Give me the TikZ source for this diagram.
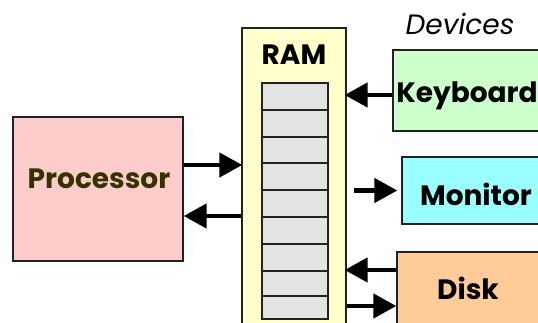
\documentclass[tikz,border=0pt]{standalone}
\usepackage{fontspec}
\setmainfont{Poppins}
\usetikzlibrary{arrows.meta,calc}

\definecolor{procfill}{HTML}{FFCCCC}
\definecolor{proctext}{HTML}{333300}
\definecolor{ramfill}{HTML}{FFFFCC}
\definecolor{cellfill}{HTML}{E3E3E3}
\definecolor{kbfill}{HTML}{CCFFCC}
\definecolor{monfill}{HTML}{99FFFF}
\definecolor{diskfill}{HTML}{FFCC99}
\definecolor{edge}{HTML}{222222}

\tikzset{
  box/.style={draw=edge, line width=1.3pt, rectangle, inner sep=0pt},
  cellbox/.style={draw=edge, line width=1.3pt, fill=cellfill},
  lbl/.style={font=\fontsize{28}{28}\selectfont\bfseries, inner sep=0pt},
  flow/.style={line width=4.5pt, -{Triangle[length=23pt,width=24pt]}},
}

\begin{document}
\begin{tikzpicture}[x=1pt, y=-1pt]
  \clip (0,0) rectangle (538,322);
  \fill[white] (0,0) rectangle (538,322);

  % processor
  \node[box, fill=procfill, minimum width=170pt, minimum height=144pt] (proc) at (98,189) {};
  \node[lbl, text=proctext] (proclbl) at (99,179) {Processor};

  % memory column with its cells
  \node[box, fill=ramfill, minimum width=104pt, minimum height=312pt] (ram) at (294,184) {};
  \node[lbl] (ramlbl) at (294,55) {RAM};
  \foreach \ya/\yb in {83/110,110/137,137/163,163/190,190/217,217/244,244/271,271/296,296/319}
    \draw[cellbox] (262,\ya) rectangle (328,\yb);

  % devices
  \node[font=\fontsize{28}{28}\selectfont\itshape, inner sep=0pt] (devlbl) at (460,24) {Devices};
  \node[box, fill=kbfill, minimum width=170pt, minimum height=81pt] (kb) at (478,90.5) {};
  \node[lbl] (kblbl) at (467,96) {Keyboard};
  \node[box, fill=monfill, minimum width=160pt, minimum height=67pt] (mon) at (482,190.5) {};
  \node[lbl] (monlbl) at (476,194) {Monitor};
  \node[box, fill=diskfill, minimum width=170pt, minimum height=90pt] (disk) at (482,297) {};
  \node[lbl] (disklbl) at (468,288) {Disk};

  % anchors for the data paths
  \coordinate (pout) at ([yshift=24pt]proc.east);
  \coordinate (pin)  at ([yshift=-27pt]proc.east);
  \coordinate (kbo)  at ([yshift=-4.5pt]kb.west);
  \coordinate (mono) at (mon.west);
  \coordinate (dko)  at ([yshift=27pt]disk.west);
  \coordinate (dki)  at ([yshift=-9pt]disk.west);

  % data paths
  \draw[flow, shorten >=-1pt] (pout) -- (ram.west |- pout);
  \draw[flow] (ram.west |- pin) -- (pin);
  \draw[flow, shorten >=-2pt] (kbo) -- (ram.east |- kbo);
  \draw[flow, shorten <=7pt, shorten >=4pt] (ram.east |- mono) -- (mono);
  \draw[flow, shorten >=-2pt] (dko) -- (ram.east |- dko);
  \draw[flow] (ram.east |- dki) -- (dki);
\end{tikzpicture}
\end{document}
